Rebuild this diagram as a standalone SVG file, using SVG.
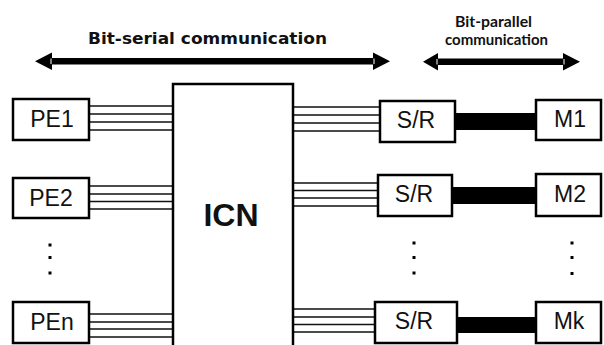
<svg xmlns="http://www.w3.org/2000/svg" width="604" height="345" viewBox="0 0 604 345">
<style>
.box{fill:#fff;stroke:#000;stroke-width:2.5}
.lbl{font-family:"Liberation Sans",Arial,sans-serif;font-size:23px;text-anchor:middle;fill:#111}
.hdr{font-family:"DejaVu Sans",Verdana,sans-serif;font-weight:bold;text-anchor:middle;fill:#111}
.hdr2{font-family:Lato,"Open Sans",sans-serif;font-weight:bold;text-anchor:middle;fill:#111;font-size:15px}
.w{stroke:#111;stroke-width:1.4;fill:none}
.bar{fill:#000}
.dot{fill:#000}
</style>
<rect width="604" height="345" fill="#fff"/>
<g id="labels">
<text class="hdr" x="207.5" y="43.5" font-size="16" textLength="239" lengthAdjust="spacingAndGlyphs">Bit-serial communication</text>
<text class="hdr2" x="493.5" y="27" textLength="77" lengthAdjust="spacingAndGlyphs">Bit-parallel</text>
<text class="hdr2" x="496.5" y="45" textLength="103" lengthAdjust="spacingAndGlyphs">communication</text>
</g>
<g id="arrows">
<rect x="50" y="58" width="325" height="6.5" fill="#000"/>
<polygon points="35,61.2 52,52.5 52,70" fill="#000"/>
<polygon points="390,61.2 373,52.5 373,70" fill="#000"/>
<line x1="51" y1="58.5" x2="51" y2="64" stroke="#fff" stroke-width="1"/>
<line x1="374" y1="58.5" x2="374" y2="64" stroke="#fff" stroke-width="1"/>
<rect x="436" y="58.5" width="129" height="6.5" fill="#000"/>
<polygon points="423,61.7 438,53 438,70.5" fill="#000"/>
<polygon points="580,61.7 563,53 563,70.5" fill="#000"/>
<line x1="437" y1="59" x2="437" y2="64.5" stroke="#fff" stroke-width="1"/>
<line x1="564" y1="59" x2="564" y2="64.5" stroke="#fff" stroke-width="1"/>
</g>
<g id="connectors">
<path class="w" d="M89 106H173M89 114H173M89 122H173M89 130H173"/>
<path class="w" d="M89 186H173M89 194H173M89 201.5H173M89 209H173"/>
<path class="w" d="M89 314H173M89 322H173M89 329H173M89 337H173"/>
<path class="w" d="M293 107H380M293 115H380M293 123H380M293 131H380"/>
<path class="w" d="M293 183H378M293 190.5H378M293 198H378M293 206H378"/>
<path class="w" d="M293 309H375M293 317H375M293 324.5H375M293 332H375"/>
<rect class="bar" x="455" y="113" width="81" height="17"/>
<rect class="bar" x="452" y="187" width="84" height="17"/>
<rect class="bar" x="457" y="317" width="79" height="16"/>
</g>
<g id="ICN">
<rect class="box" x="173" y="84" width="120" height="275"/>
<text x="231" y="226" font-family="Liberation Sans,Arial,sans-serif" font-weight="bold" font-size="32" text-anchor="middle" fill="#111">ICN</text>
</g>
<g id="PE1"><rect class="box" x="13" y="99" width="76" height="41"/><text class="lbl" x="52" y="127">PE1</text></g>
<g id="PE2"><rect class="box" x="13" y="178" width="76" height="40"/><text class="lbl" x="51" y="206">PE2</text></g>
<g id="PEn"><rect class="box" x="13" y="302" width="76" height="41"/><text class="lbl" x="52" y="330">PEn</text></g>
<g id="SR1"><rect class="box" x="380" y="101" width="75" height="41"/><text class="lbl" x="416" y="128">S/R</text></g>
<g id="SR2"><rect class="box" x="378" y="175" width="74" height="41"/><text class="lbl" x="414" y="202">S/R</text></g>
<g id="SRk"><rect class="box" x="375" y="302" width="82" height="41"/><text class="lbl" x="414" y="329">S/R</text></g>
<g id="M1"><rect class="box" x="536" y="100" width="65" height="40"/><text class="lbl" x="570" y="127">M1</text></g>
<g id="M2"><rect class="box" x="536" y="174" width="65" height="42"/><text class="lbl" x="570" y="202">M2</text></g>
<g id="Mk"><rect class="box" x="536" y="302" width="65" height="41"/><text class="lbl" x="569" y="329">Mk</text></g>
<g id="dots">
<rect class="dot" x="48.5" y="243.5" width="3" height="3"/>
<rect class="dot" x="48.5" y="256" width="3" height="3"/>
<rect class="dot" x="48.5" y="271.5" width="3" height="3"/>
<rect class="dot" x="412.5" y="241.5" width="3" height="3"/>
<rect class="dot" x="412.5" y="256" width="3" height="3"/>
<rect class="dot" x="412.5" y="271.5" width="3" height="3"/>
<rect class="dot" x="570.5" y="241.5" width="3" height="3"/>
<rect class="dot" x="570.5" y="256" width="3" height="3"/>
<rect class="dot" x="570.5" y="272" width="3" height="3"/>
</g>
</svg>
